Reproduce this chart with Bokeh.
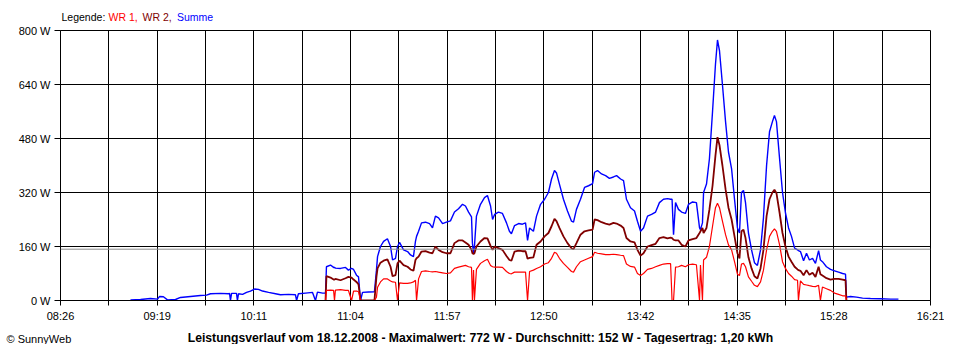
from bokeh.plotting import figure
from bokeh.models import Range1d, FixedTicker, Span
from bokeh.layouts import column
from bokeh.core.properties import value
from bokeh.embed import file_html
from bokeh.resources import INLINE
import numpy as np

N = float("nan")

# time in minutes after midnight (08:26 = 506, 16:21 = 981)
t_min = [
    544.2, 549.7, 555.1, 559.0, 560.1, 562.2, 564.4, 568.8, 571.5, 577.0,
    582.4, 585.7, 587.9, 593.4, 597.7, 598.3, 598.8, 599.4, 602.1, 602.6,
    603.2, 605.4, 607.6, 609.7, 611.9, 614.1, 616.3, 619.6, 623.4, 626.1,
    630.5, 634.3, 634.9, 635.9, 639.8, 643.6, 645.2, 646.3, 649.1, 650.7,
    651.2, 653.4, 655.1, 655.6, 656.1, 658.9, 661.6, 663.2, 664.9, 666.0,
    667.6, 668.7, 669.8, 670.9, 674.2, 677.4, 678.5, 679.1, 680.7, 682.4,
    684.5, 686.2, 687.3, 688.9, 690.0, 691.1, 693.3, 695.5, 697.1, 698.7,
    699.8, 700.4, 701.5, 703.1, 705.3, 707.5, 709.1, 710.7, 712.4, 714.6,
    716.7, 718.9, 721.1, 723.3, 725.5, 727.1, 728.8, 730.4, 730.9, 731.5,
    732.0, 733.1, 735.3, 737.5, 739.1, 740.8, 741.9, 743.0, 745.1, 747.3,
    749.5, 751.1, 752.2, 753.9, 756.1, 758.2, 759.9, 761.0, 762.1, 764.2,
    765.9, 768.1, 770.3, 772.4, 774.1, 775.7, 776.8, 778.4, 780.6, 782.8,
    785.0, 786.1, 787.7, 789.9, 792.1, 794.3, 796.5, 797.6, 799.2, 801.4,
    803.6, 805.7, 807.9, 809.6, 811.8, 813.4, 815.0, 817.2, 819.4, 821.0,
    822.7, 824.3, 826.5, 828.7, 830.9, 833.0, 835.2, 837.4, 839.1, 839.9,
    840.7, 841.8, 843.4, 845.1, 847.2, 848.9, 851.1, 853.2, 854.9, 855.4,
    856.5, 857.1, 858.7, 860.3, 862.0, 863.6, 864.7, 865.8, 867.4, 869.1,
    870.7, 872.4, 874.0, 875.6, 876.7, 877.8, 878.9, 880.0, 881.6, 883.3,
    884.9, 886.5, 888.2, 889.8, 891.5, 893.1, 894.7, 895.8, 896.9, 898.6,
    900.2, 901.8, 903.5, 905.1, 906.8, 908.4, 908.9, 910.0, 911.7, 913.3,
    914.9, 916.6, 918.2, 919.9, 920.9, 922.0, 924.2, 926.4, 928.6, 930.8,
    933.0, 934.6, 935.1, 937.3, 940.6, 943.9, 948.2, 953.7, 959.2, 963.5,
]

summe = [
    2, 3, 6, 4, 12, 11, 2, 3, 9, 12,
    15, 16, 20, 21, 20, 21, 0, 21, 21, 0,
    20, 18, 24, 28, 34, 33, 28, 24, 20, 17,
    18, 17, 0, 20, 22, 24, 0, 25, 22, 22,
    100, 105, 98, 98, 96, 95, 98, 90, 95, 92,
    75, 70, 0, 24, 25, 26, 90, 130, 160, 175,
    183, 160, 120, 125, 160, 172, 150, 145, 135, 130,
    175, 190, 205, 230, 232, 228, 215, 250, 245, 228,
    232, 236, 262, 272, 285, 280, 262, 248, 170, 140,
    160, 250, 285, 305, 311, 280, 240, 255, 262, 258,
    230, 205, 198, 222, 228, 226, 230, 178, 215, 205,
    250, 285, 300, 320, 360, 385, 378, 345, 300, 265,
    235, 232, 270, 300, 335, 340, 346, 380, 385, 375,
    370, 362, 366, 370, 360, 355, 300, 275, 265, 235,
    205, 215, 250, 255, 262, 290, 300, 302, 300, 300,
    195, 290, 270, 262, 258, 285, 292, 290, 215, 210,
    230, 320, 345, 420, 560, 700, 772, 740, 640, 530,
    440, 390, 300, 215, 200, 320, 326, 290, 200, 150,
    112, 104, 150, 245, 400, 500, 530, 548, 530, 420,
    320, 260, 215, 190, 155, 150, 148, 145, 118, 140,
    120, 125, 110, 148, 120, 115, 100, 92, 88, 84,
    80, 78, 10, 12, 10, 7, 6, 5, 4, 4,
]

wr2 = [
    N, N, N, N, N, N, N, N, N, N,
    N, N, N, N, N, N, N, N, N, N,
    N, N, N, N, N, N, N, N, N, N,
    N, N, N, N, N, N, N, N, N, 0,
    72, 68, 62, 62, 64, 60, 66, 70, 68, 62,
    55, 48, 0, 0, 0, 0, 70, 95, 112, 118,
    122, 100, 72, 75, 110, 118, 105, 100, 92, 88,
    120, 125, 130, 145, 146, 142, 140, 160, 150, 143,
    140, 140, 170, 178, 178, 172, 165, 150, 140, 138,
    140, 160, 175, 185, 184, 162, 150, 160, 155, 150,
    132, 120, 118, 145, 148, 146, 146, 124, 126, 128,
    165, 175, 190, 200, 220, 242, 235, 215, 190, 170,
    155, 152, 170, 195, 205, 208, 210, 240, 238, 232,
    228, 225, 230, 228, 222, 215, 185, 175, 172, 150,
    133, 140, 160, 164, 168, 185, 188, 184, 186, 185,
    180, 178, 178, 165, 160, 178, 182, 185, 200, 205,
    215, 200, 215, 270, 340, 430, 484, 460, 400, 330,
    275, 240, 190, 140, 125, 205, 210, 185, 128, 95,
    72, 65, 95, 150, 250, 300, 320, 328, 318, 260,
    200, 160, 130, 115, 100, 92, 90, 88, 75, 90,
    76, 82, 70, 100, 78, 74, 66, 62, 64, 64,
    62, 60, 0, N, N, N, N, N, N, N,
]

wr1 = [
    N, N, N, N, N, N, N, N, N, N,
    N, N, N, N, N, N, N, N, N, N,
    N, N, N, N, N, N, N, N, N, N,
    N, N, N, N, N, N, N, N, N, 0,
    30, 31, 30, 0, 31, 32, 30, 30, 0, 28,
    28, 26, 0, 0, 0, 0, 10, 39, 55, 64,
    64, 58, 55, 54, 0, 52, 51, 51, 52, 55,
    60, 0, 64, 86, 88, 86, 85, 86, 84, 82,
    80, 82, 95, 99, 102, 104, 100, 98, 0, 90,
    0, 92, 110, 118, 122, 104, 100, 99, 99, 98,
    86, 80, 79, 84, 84, 84, 84, 0, 86, 90,
    95, 100, 108, 112, 125, 143, 140, 125, 110, 98,
    86, 84, 100, 115, 120, 125, 130, 143, 140, 138,
    136, 136, 137, 136, 134, 133, 108, 101, 99, 80,
    74, 80, 92, 95, 100, 104, 108, 109, 109, 0,
    0, 99, 100, 104, 100, 106, 108, 106, 0, 105,
    0, 120, 128, 160, 220, 275, 288, 275, 235, 195,
    165, 150, 115, 78, 74, 108, 110, 100, 70, 57,
    45, 41, 55, 90, 150, 190, 205, 212, 205, 165,
    115, 95, 80, 72, 62, 60, 0, 58, 48, 46,
    44, 42, 41, 45, 0, 40, 35, 30, 22, 18,
    14, 14, 0, N, N, N, N, N, N, N,
]

durchschnitt = 152

y_ticks = [0, 160, 320, 480, 640, 800]
y_labels = ["0 W", "160 W", "320 W", "480 W", "640 W", "800 W"]
x_labels = ["08:26", "", "09:19", "", "10:11", "", "11:04", "", "11:57", "",
            "12:50", "", "13:42", "", "14:35", "", "15:28", "", "16:21"]
x_start, x_end = 506, 981
x_ticks = [x_start + i * (x_end - x_start) / 18 for i in range(19)]

legend_texts = ["Legende:", "WR 1,", "WR 2,", "Summe"]
legend_colors = ["black", "#ff0000", "#800000", "#0000ff"]
caption = "Leistungsverlauf vom 18.12.2008 - Maximalwert: 772 W - Durchschnitt: 152 W - Tagesertrag: 1,20 kWh"
credit = "\u00a9 SunnyWeb"

FONT = "Liberation Sans"
W = 944


def strip(height):
    # a plain text strip; data units equal pixels, y counted upward from its bottom
    f = figure(frame_width=W, frame_height=height, output_backend="svg", toolbar_location=None,
               x_range=Range1d(0, W), y_range=Range1d(0, height),
               x_axis_type=None, y_axis_type=None, frame_align=False,
               min_border_left=0, min_border_right=0, min_border_top=0, min_border_bottom=0)
    f.grid.visible = False
    f.outline_line_color = None
    f.background_fill_color = "white"
    f.border_fill_color = "white"
    return f


# --- legend strip (top, 23 px) ---
top = strip(23)
top.text(x=[61, 108, 142, 176.5], y=[6.5, 6.5, 6.5, 6.5], text=legend_texts, text_color=legend_colors,
         text_font=value(FONT), text_font_size="10.5px", text_baseline="middle", text_align="left")

# --- main chart ---
main = figure(frame_width=870, frame_height=270, output_backend="svg", toolbar_location=None,
              x_range=Range1d(x_start, x_end), y_range=Range1d(0, 800), frame_align=False,
              min_border_left=60, min_border_right=14, min_border_top=7, min_border_bottom=26)
main.background_fill_color = "white"
main.border_fill_color = "white"
main.outline_line_color = "black"
main.outline_line_alpha = 1.0

t = np.array(t_min, dtype=float)
main.line(t, np.array(summe, dtype=float), line_color="#0000ff", line_width=1.4)
main.line(t, np.array(wr2, dtype=float), line_color="#800000", line_width=1.8)
main.line(t, np.array(wr1, dtype=float), line_color="#ff0000", line_width=1.2)

main.add_layout(Span(location=durchschnitt, dimension="width", line_color="#8c8c8c", line_width=1))

main.xaxis.ticker = FixedTicker(ticks=x_ticks)
main.xaxis.major_label_overrides = {tk: lb for tk, lb in zip(x_ticks, x_labels)}
main.yaxis.ticker = FixedTicker(ticks=y_ticks)
main.yaxis.major_label_overrides = {tk: lb for tk, lb in zip(y_ticks, y_labels)}
for ax in (main.xaxis[0], main.yaxis[0]):
    ax.axis_line_color = "black"
    ax.major_tick_line_color = "black"
    ax.major_tick_in = 0
    ax.minor_tick_line_color = None
    ax.major_label_text_font = FONT
    ax.major_label_text_font_size = "11px"
    ax.major_label_text_color = "black"
main.xaxis.major_tick_out = 5
main.xaxis.major_label_standoff = 4
main.yaxis.major_tick_out = 6
main.yaxis.major_label_standoff = 4

main.xgrid.ticker = FixedTicker(ticks=x_ticks)
main.ygrid.ticker = FixedTicker(ticks=y_ticks)
for g in (main.xgrid[0], main.ygrid[0]):
    g.grid_line_color = "black"
    g.grid_line_alpha = 1.0
    g.grid_line_width = 1

# --- caption strip (bottom, 18 px) ---
bottom = strip(18)
bottom.text(x=[480], y=[7], text=[caption], text_color="black", text_font=value(FONT),
            text_font_size="12.2px", text_font_style="bold", text_baseline="middle", text_align="center")
bottom.text(x=[6], y=[6], text=[credit], text_color="black", text_font=value(FONT),
            text_font_size="11px", text_baseline="middle", text_align="left")

p = column(top, main, bottom, spacing=0)
open("out.html", "w").write(file_html(p, INLINE))
